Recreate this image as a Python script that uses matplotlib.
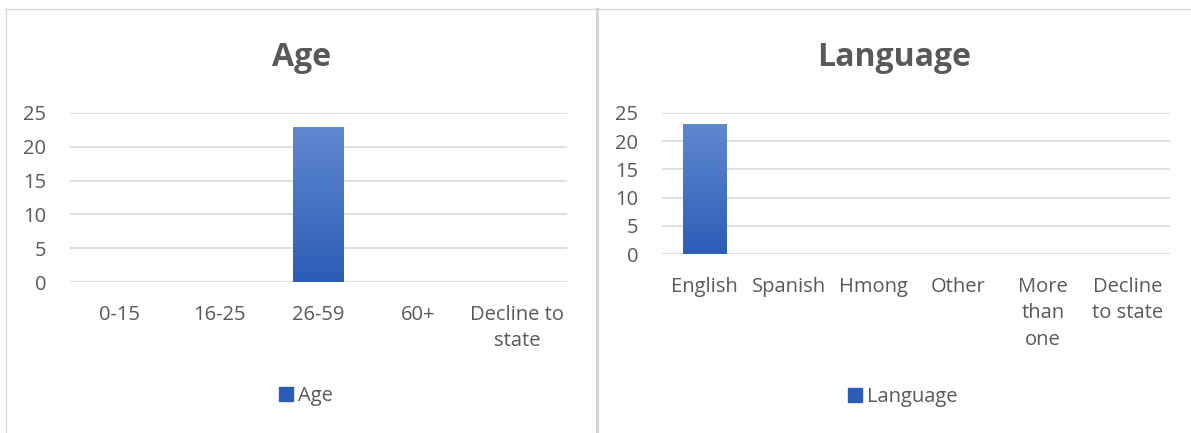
import numpy as np
import matplotlib
matplotlib.use("Agg")
import matplotlib.pyplot as plt
from matplotlib.colors import LinearSegmentedColormap
from matplotlib.lines import Line2D

# data
age_labels = ["0-15", "16-25", "26-59", "60+", "Decline to\nstate"]
age_counts = [0, 0, 23, 0, 0]

lang_labels = ["English", "Spanish", "Hmong", "Other", "More\nthan\none", "Decline\nto state"]
lang_counts = [23, 0, 0, 0, 0, 0]

y_ticks = [0, 5, 10, 15, 20, 25]

TEXT = "#595959"
GRID = "#d9d9d9"
BAR_TOP = "#6088d0"
BAR_BOTTOM = "#2c5db6"

plt.rcParams["font.family"] = ["Open Sans", "DejaVu Sans"]

W, H = 1191, 433
fig = plt.figure(figsize=(W / 100, H / 100), dpi=100)

grad = LinearSegmentedColormap.from_list("bar", [BAR_BOTTOM, BAR_TOP])


def px_box(x0, x1, y_top, y_bottom):
    return [x0 / W, 1 - y_bottom / H, (x1 - x0) / W, (y_bottom - y_top) / H]


def bar_panel(rect, labels, counts, title, title_x, legend_xy, fontsize=14.5):
    ax = fig.add_axes(rect)
    x = np.arange(len(labels))
    bars = ax.bar(x, counts, width=0.51, color=BAR_BOTTOM, zorder=3)
    # vertical gradient fill, clipped to each bar
    for b in bars:
        h = b.get_height()
        if h <= 0:
            b.set_visible(False)
            continue
        img = ax.imshow(np.linspace(0, 1, 100).reshape(-1, 1), cmap=grad,
                        origin="lower", aspect="auto", zorder=4,
                        extent=[b.get_x(), b.get_x() + b.get_width(), 0, h])
        img.set_clip_path(b)
    ax.set_xlim(-0.5, len(labels) - 0.5)
    ax.set_ylim(0, 25)
    ax.set_yticks(y_ticks)
    ax.set_xticks(x)
    ax.set_xticklabels(labels, fontsize=fontsize, color=TEXT, linespacing=1.42)
    ax.tick_params(axis="y", labelsize=fontsize, labelcolor=TEXT, length=0, pad=17)
    ax.tick_params(axis="x", length=0, pad=16.5)
    ax.grid(axis="y", color=GRID, linewidth=1.2, zorder=0)
    ax.set_axisbelow(True)
    for s in ax.spines.values():
        s.set_visible(False)
    for t in ax.get_yticklabels():
        t.set_clip_on(False)

    fig.text(title_x / W, 1 - 57 / H, title, ha="center", va="center",
             fontsize=23, fontweight="bold", color=TEXT)

    handle = Line2D([], [], marker="s", linestyle="none", markersize=10.5,
                    markerfacecolor=BAR_BOTTOM, markeredgecolor=BAR_BOTTOM)
    fig.legend([handle], [title], loc="center",
               bbox_to_anchor=(legend_xy[0] / W, 1 - legend_xy[1] / H),
               frameon=False, fontsize=fontsize, labelcolor=TEXT,
               handlelength=0.8, handletextpad=0.2, borderpad=0)
    return ax


bar_panel(px_box(70, 567, 113, 282), age_labels, age_counts, "Age", 302, (305, 396))
bar_panel(px_box(662, 1170, 113, 254), lang_labels, lang_counts, "Language", 894, (902, 397))

# chart frames
fig.add_artist(Line2D([5 / W, 1], [1 - 8.5 / H] * 2, transform=fig.transFigure,
                      color=GRID, linewidth=1.0))
fig.add_artist(Line2D([5.5 / W] * 2, [0, 1 - 8.5 / H], transform=fig.transFigure,
                      color=GRID, linewidth=1.0))
fig.add_artist(Line2D([596.5 / W] * 2, [0, 1 - 8.5 / H], transform=fig.transFigure,
                      color="#d4d4d4", linewidth=2.2))

fig.savefig("out.png", dpi=100)
